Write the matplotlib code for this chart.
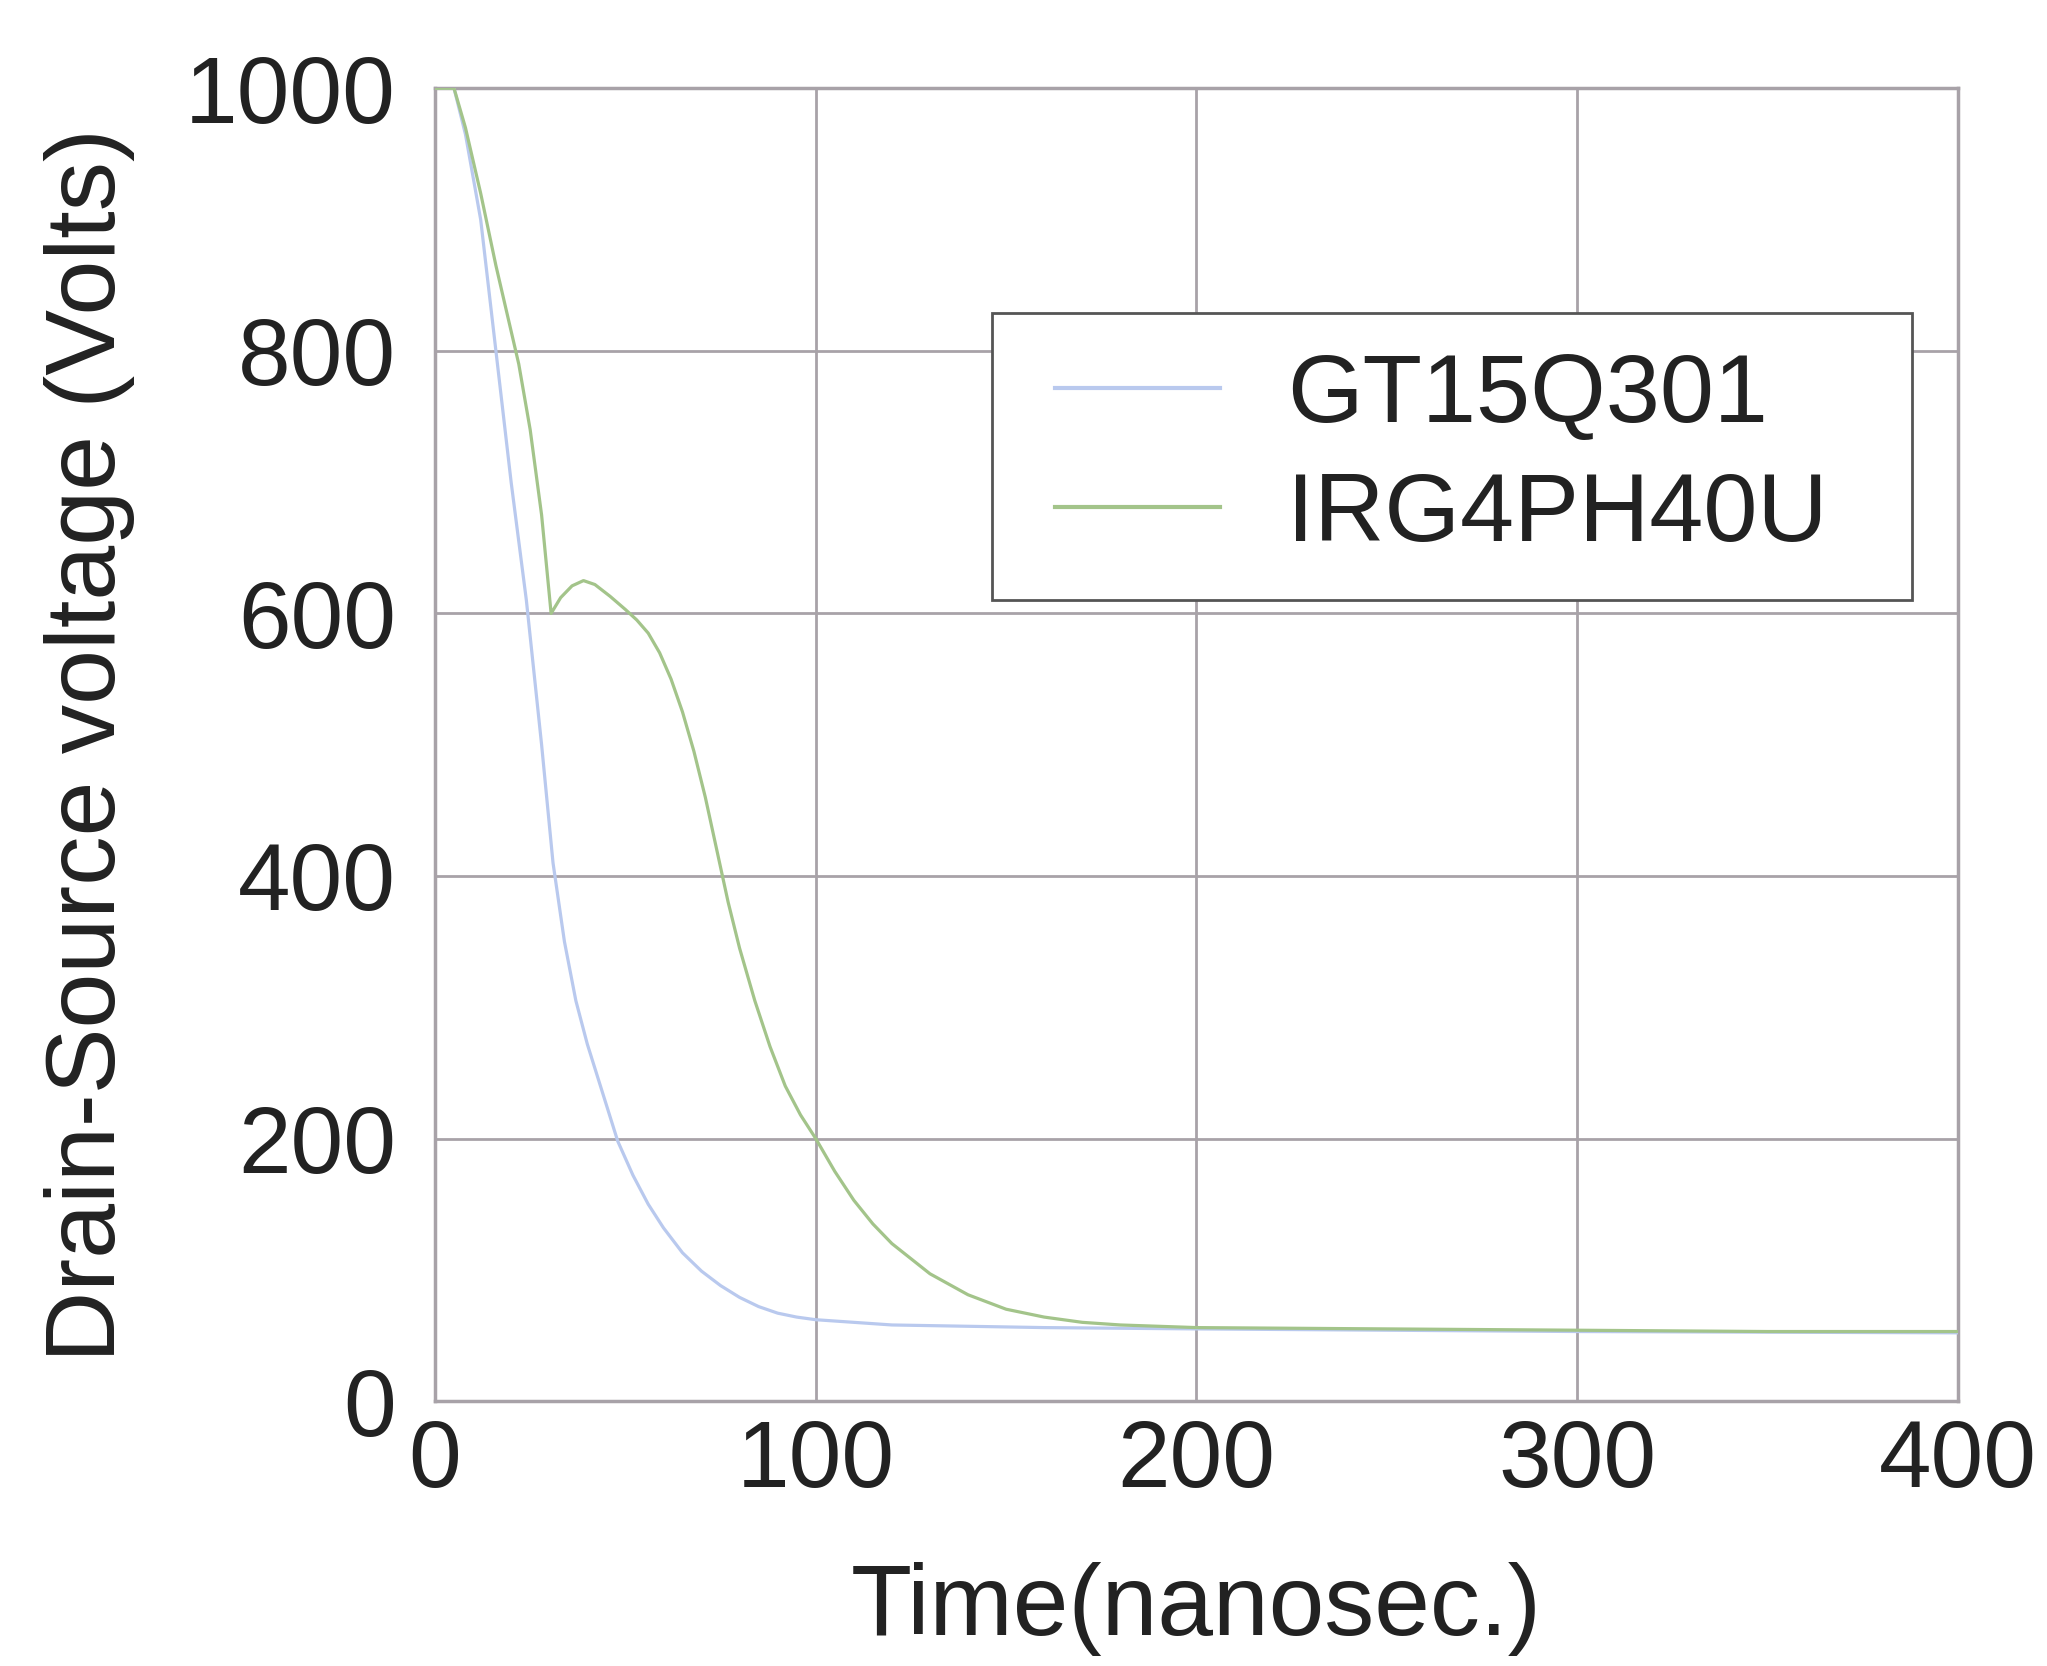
import matplotlib
matplotlib.use("Agg")
import matplotlib.pyplot as plt
from matplotlib.legend_handler import HandlerLine2D

# ---- data ----
t_gt = [0, 5, 8, 12, 16, 20, 24, 28, 31, 34, 37, 40, 44, 48, 52, 56, 60, 65, 70, 75, 80, 85, 90, 95,
        100, 110, 120, 140, 160, 200, 300, 400]
v_gt = [1000, 1000, 965, 900, 800, 700, 610, 500, 410, 350, 305, 272, 235, 198, 172, 150, 132, 113,
        99, 88, 79, 72, 67, 64, 62, 60, 58, 57, 56, 55, 53, 52]

t_ir = [0, 5, 8, 12, 16, 20, 22, 25, 28, 30.5, 33, 36, 39, 42, 46, 50, 53, 56, 59, 62, 65, 68, 71,
        74, 77, 80, 84, 88, 92, 96, 100, 105, 110, 115, 120, 130, 140, 150, 160, 170, 180, 200,
        250, 300, 350, 400]
v_ir = [1000, 1000, 970, 920, 865, 815, 790, 740, 675, 600, 612, 621, 625, 622, 613, 603, 595, 585,
        570, 550, 525, 495, 460, 420, 380, 345, 305, 270, 240, 218, 200, 175, 153, 135, 120, 97,
        81, 70, 64, 60, 58, 56, 55, 54, 53, 53]

series_labels = ["GT15Q301", "IRG4PH40U"]
x_ticks = [0, 100, 200, 300, 400]
y_ticks = [0, 200, 400, 600, 800, 1000]
x_label = "Time(nanosec.)"
y_label = "Drain-Source voltage (Volts)"

plt.rcParams['font.family'] = ['Liberation Sans', 'DejaVu Sans']

fig = plt.figure(figsize=(20.47, 16.66), dpi=100)
ax = fig.add_axes([0.2125, 0.159, 0.744, 0.788])

grid_c = "#a8a2a8"
ax.plot(t_gt, v_gt, color="#b9c9ee", lw=2.3, label=series_labels[0], zorder=3,
        solid_joinstyle="round")
ax.plot(t_ir, v_ir, color="#a3c48a", lw=2.3, label=series_labels[1], zorder=3,
        solid_joinstyle="round")

ax.set_xlim(0, 400)
ax.set_ylim(0, 1000)
ax.set_xticks(x_ticks)
ax.set_yticks(y_ticks)
ax.grid(True, color=grid_c, lw=2.0)
ax.set_axisbelow(True)
for s in ax.spines.values():
    s.set_color(grid_c)
    s.set_linewidth(2.5)
ax.tick_params(length=0, labelsize=68, colors="#222222")
ax.tick_params(axis='x', pad=12)
ax.tick_params(axis='y', pad=28)
ax.set_xlabel(x_label, fontsize=72, color="#222222", labelpad=40)
ax.set_ylabel(y_label, fontsize=71, color="#222222", labelpad=36)

leg = ax.legend(loc="upper left", bbox_to_anchor=(0.366, 0.612, 0.604, 0.217), mode="expand",
                borderaxespad=0, fontsize=70, fancybox=False, framealpha=1, edgecolor="#555555",
                handlelength=1.94, handletextpad=0.69, borderpad=0.4, labelspacing=0.3,
                handler_map={plt.Line2D: HandlerLine2D(xpad=0.24)})
leg.get_frame().set_linewidth(2.0)
for line in leg.get_lines():
    line.set_linewidth(3.0)
for txt in leg.get_texts():
    txt.set_color("#222222")

fig.savefig("out.png", dpi=100)
